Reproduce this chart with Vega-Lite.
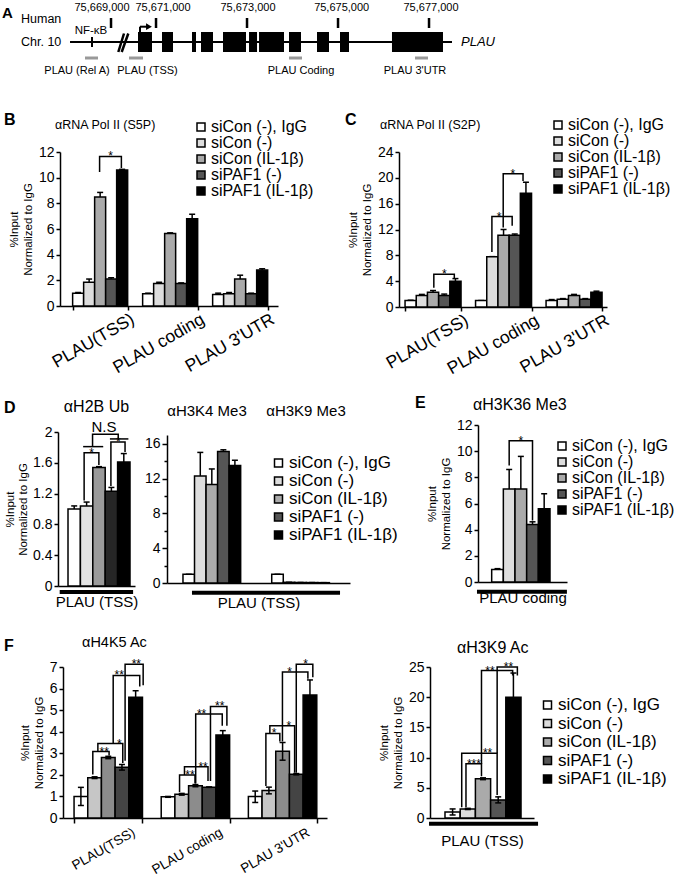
{
"$schema":"https://vega.github.io/schema/vega-lite/v6.json",
"background":"white",
"padding":0,
"bounds":"flush",
"spacing":0,
"config":{
 "font":"Liberation Sans",
 "view":{"stroke":null},
 "concat":{"spacing":0},
 "axis":{"domainColor":"black","domainWidth":1.5,"tickColor":"black","tickWidth":1.5,"tickSize":4,"labelColor":"black","labelFontSize":14,"labelPadding":2,"labelOverlap":false,"labelSeparation":-50,"titleColor":"black","titleFontSize":11.5,"titleFontWeight":"normal","grid":false},
 "legend":{"symbolType":"square","symbolSize":64,"symbolStrokeColor":"black","symbolStrokeWidth":1.5,"labelFontSize":16,"labelColor":"black","labelOffset":2,"padding":0,"orient":"none"},
 "title":{"fontSize":15,"fontWeight":"normal","color":"black","frame":"group"},
 "text":{"color":"black"}
},
"resolve":{"scale":{"color":"independent"},"legend":{"color":"independent"}},
"vconcat":[
{
 "width":680,"height":110,
 "layer":[
  {"data":{"values":[{"start":75669.11,"end":75677.505}]},
   "mark":{"type":"rule","color":"black","strokeWidth":2},
   "encoding":{"x":{"field":"start","type":"quantitative","scale":{"domain":[75667.571,75682.516],"nice":false,"zero":false},"axis":null},"x2":{"field":"end"},"y":{"datum":4.2,"type":"quantitative","scale":{"domain":[0,11],"reverse":true,"nice":false,"zero":false},"axis":null}}},
  {"data":{"values":[{"start":75670.604,"end":75670.912},{"start":75671.132,"end":75671.373},{"start":75671.791,"end":75671.879},{"start":75671.989,"end":75672.252},{"start":75672.472,"end":75672.978},{"start":75673.044,"end":75673.22},{"start":75673.264,"end":75673.813},{"start":75673.923,"end":75674.187},{"start":75674.538,"end":75674.802},{"start":75675.044,"end":75675.241},{"start":75676.186,"end":75677.307}]},
   "mark":{"type":"rect","color":"black"},
   "encoding":{"x":{"field":"start","type":"quantitative","axis":null},"x2":{"field":"end"},"y":{"datum":3.2,"type":"quantitative","axis":null},"y2":{"datum":5.2}}},
  {"data":{"values":[{"pos":75669.593,"name":"NF-κB"}]},
   "mark":{"type":"rule","color":"black","strokeWidth":2},
   "encoding":{"x":{"field":"pos","type":"quantitative","axis":null},"y":{"datum":3.7,"type":"quantitative","axis":null},"y2":{"datum":4.7}}},
  {"data":{"values":[{"pos":75669.571,"name":"NF-κB"}]},
   "mark":{"type":"text","fontSize":11.5,"baseline":"middle"},
   "encoding":{"x":{"field":"pos","type":"quantitative","axis":null},"y":{"datum":3.05,"type":"quantitative","axis":null},"text":{"field":"name"}}},
  {"data":{"values":[{"pos":75670.281}]},
   "mark":{"type":"point","shape":"M-0.5,1L0.07,-0.85M-0.16,1L0.5,-0.85","size":400,"filled":false,"stroke":"black","strokeWidth":2.5,"opacity":1},
   "encoding":{"x":{"field":"pos","type":"quantitative","axis":null},"y":{"datum":4.2,"type":"quantitative","axis":null}}},
  {"data":{"values":[{"tss":75670.648,"head":75670.845}]},
   "layer":[
    {"mark":{"type":"rule","color":"black","strokeWidth":2},"encoding":{"x":{"field":"tss","type":"quantitative","axis":null},"y":{"datum":3.2,"type":"quantitative","axis":null},"y2":{"datum":2.67}}},
    {"mark":{"type":"rule","color":"black","strokeWidth":2},"encoding":{"x":{"field":"tss","type":"quantitative","axis":null},"x2":{"field":"head"},"y":{"datum":2.67,"type":"quantitative","axis":null}}},
    {"mark":{"type":"point","shape":"triangle-right","size":45,"filled":true,"color":"black","opacity":1},"encoding":{"x":{"field":"head","type":"quantitative","axis":null},"y":{"datum":2.67,"type":"quantitative","axis":null}}}
   ]},
  {"data":{"values":[{"pos":75670.011,"label":"75,669,000","lpos":75669.813},{"pos":75671.0,"label":"75,671,000","lpos":75671.154},{"pos":75673.0,"label":"75,673,000","lpos":75673.022},{"pos":75675.0,"label":"75,675,000","lpos":75675.08},{"pos":75677.0,"label":"75,677,000","lpos":75677.044}]},
   "layer":[
    {"mark":{"type":"rule","color":"black","strokeWidth":2.5},"encoding":{"x":{"field":"pos","type":"quantitative","axis":null},"y":{"datum":1.8,"type":"quantitative","axis":null},"y2":{"datum":2.8}}},
    {"mark":{"type":"text","fontSize":11,"baseline":"middle"},"encoding":{"x":{"field":"lpos","type":"quantitative","axis":null},"y":{"datum":0.8,"type":"quantitative","axis":null},"text":{"field":"label"}}}
   ]},
  {"data":{"values":[{"start":75669.439,"end":75669.725,"name":"PLAU (Rel A)","lpos":75669.264},{"start":75670.406,"end":75670.714,"name":"PLAU (TSS)","lpos":75670.813},{"start":75673.923,"end":75674.209,"name":"PLAU Coding","lpos":75674.187},{"start":75676.692,"end":75676.978,"name":"PLAU 3'UTR","lpos":75676.692}]},
   "layer":[
    {"mark":{"type":"rule","color":"#999999","strokeWidth":3},"encoding":{"x":{"field":"start","type":"quantitative","axis":null},"x2":{"field":"end"},"y":{"datum":5.8,"type":"quantitative","axis":null}}},
    {"mark":{"type":"text","fontSize":11,"baseline":"middle"},"encoding":{"x":{"field":"lpos","type":"quantitative","axis":null},"y":{"datum":7.1,"type":"quantitative","axis":null},"text":{"field":"name"}}}
   ]},
  {"data":{"values":[{"t":"Human","pos":75668.033,"lvl":1.9},{"t":"Chr. 10","pos":75668.033,"lvl":4.2}]},
   "mark":{"type":"text","fontSize":12.5,"align":"left","baseline":"middle"},
   "encoding":{"x":{"field":"pos","type":"quantitative","axis":null},"y":{"field":"lvl","type":"quantitative","axis":null},"text":{"field":"t"}}},
  {"data":{"values":[{"t":"PLAU","pos":75677.703,"lvl":4.2}]},
   "mark":{"type":"text","fontSize":13,"fontStyle":"italic","align":"left","baseline":"middle"},
   "encoding":{"x":{"field":"pos","type":"quantitative","axis":null},"y":{"field":"lvl","type":"quantitative","axis":null},"text":{"field":"t"}}},
  {"data":{"values":[{"t":"A","pos":75667.615,"lvl":1.3}]},
   "mark":{"type":"text","fontSize":15,"fontWeight":"bold","align":"left","baseline":"middle"},
   "encoding":{"x":{"field":"pos","type":"quantitative","axis":null},"y":{"field":"lvl","type":"quantitative","axis":null},"text":{"field":"t"}}}
 ]
},
{"width":1,"height":42,"data":{"values":[]},"mark":"point"},
{
 "hconcat":[
  {"width":60,"height":1,"data":{"values":[]},"mark":"point","title":{"text":"B","fontWeight":"bold","fontSize":16,"anchor":"start","dx":4,"offset":24}},
  {
   "width":218,"height":154,
   "title":{"text":"αRNA Pol II (S5P)","anchor":"start","dx":-5,"offset":-12,"fontSize":12.5},
   "resolve":{"scale":{"xOffset":"independent"}},
   "layer":[
    {"data":{"values":[
      {"r":"PLAU(TSS)","c":"siCon (-), IgG","v":1.0,"hi":1.05},
      {"r":"PLAU(TSS)","c":"siCon (-)","v":1.85,"hi":2.1},
      {"r":"PLAU(TSS)","c":"siCon (IL-1β)","v":8.5,"hi":8.85},
      {"r":"PLAU(TSS)","c":"siPAF1 (-)","v":2.1,"hi":2.2},
      {"r":"PLAU(TSS)","c":"siPAF1 (IL-1β)","v":10.6,"hi":10.65},
      {"r":"PLAU coding","c":"siCon (-), IgG","v":0.95,"hi":1.0},
      {"r":"PLAU coding","c":"siCon (-)","v":1.75,"hi":1.85},
      {"r":"PLAU coding","c":"siCon (IL-1β)","v":5.65,"hi":5.7},
      {"r":"PLAU coding","c":"siPAF1 (-)","v":1.75,"hi":1.8},
      {"r":"PLAU coding","c":"siPAF1 (IL-1β)","v":6.8,"hi":7.15},
      {"r":"PLAU 3'UTR","c":"siCon (-), IgG","v":0.9,"hi":1.0},
      {"r":"PLAU 3'UTR","c":"siCon (-)","v":0.95,"hi":1.05},
      {"r":"PLAU 3'UTR","c":"siCon (IL-1β)","v":2.1,"hi":2.4},
      {"r":"PLAU 3'UTR","c":"siPAF1 (-)","v":0.95,"hi":1.0},
      {"r":"PLAU 3'UTR","c":"siPAF1 (IL-1β)","v":2.8,"hi":2.9}]},
     "encoding":{
      "x":{"field":"r","type":"nominal","scale":{"domain":["PLAU(TSS)","PLAU coding","PLAU 3'UTR"],"paddingInner":0.214,"paddingOuter":0.164,"align":0.55},"axis":{"title":null,"labelAngle":-30,"labelFontSize":17.5,"labelOffset":28,"labelPadding":0,"tickBand":"extent","tickSize":4,"labelOverlap":false}},
      "xOffset":{"field":"c","type":"nominal","scale":{"domain":["siCon (-), IgG","siCon (-)","siCon (IL-1β)","siPAF1 (-)","siPAF1 (IL-1β)"],"paddingInner":0,"paddingOuter":0}},
      "y":{"field":"v","type":"quantitative","scale":{"domain":[0,12],"nice":false},"axis":{"title":["%Input","Normalized to IgG"],"values":[0,2,4,6,8,10,12],"titlePadding":5,"labelOverlap":false,"labelSeparation":-50}}},
     "layer":[
      {"mark":{"type":"rule","color":"black","strokeWidth":1.5},"encoding":{"y2":{"field":"hi"}}},
      {"mark":{"type":"tick","color":"black","thickness":1.5,"size":6,"opacity":1},"encoding":{"y":{"field":"hi","type":"quantitative","axis":{"title":["%Input","Normalized to IgG"],"values":[0,2,4,6,8,10,12],"titlePadding":5,"labelOverlap":false,"labelSeparation":-50}}}},
      {"mark":{"type":"bar","stroke":"black","strokeWidth":1.5},"encoding":{"color":{"field":"c","type":"nominal","scale":{"domain":["siCon (-), IgG","siCon (-)","siCon (IL-1β)","siPAF1 (-)","siPAF1 (IL-1β)"],"range":["#ffffff","#dddddd","#aaaaaa","#555555","#000000"]},"legend":{"title":null,"orient":"none","legendX":133,"legendY":-33,"rowPadding":0}}}}
     ]},
    {"encoding":{
      "x":{"field":"r","type":"nominal","scale":{"domain":["PLAU(TSS)","PLAU coding","PLAU 3'UTR"]}},
      "xOffset":{"field":"p","type":"quantitative","scale":{"domain":[0.5,5.5],"nice":false,"zero":false}},
      "y":{"field":"v","type":"quantitative","scale":{"domain":[0,12],"nice":false},"axis":{"title":["%Input","Normalized to IgG"],"values":[0,2,4,6,8,10,12],"titlePadding":5,"labelOverlap":false,"labelSeparation":-50}}},
     "layer":[
      {"data":{"values":[{"r":"PLAU(TSS)","id":"b1","s":1,"p":2.95,"v":10.45},{"r":"PLAU(TSS)","id":"b1","s":2,"p":2.95,"v":11.65},{"r":"PLAU(TSS)","id":"b1","s":3,"p":4.93,"v":11.65},{"r":"PLAU(TSS)","id":"b1","s":4,"p":4.93,"v":10.75}]},
       "mark":{"type":"line","color":"black","strokeWidth":1.5},"encoding":{"detail":{"field":"id"},"order":{"field":"s"}}},
      {"data":{"values":[{"r":"PLAU(TSS)","p":3.94,"v":11.65,"t":"*"}]},
       "mark":{"type":"text","fontSize":12,"baseline":"alphabetic","dy":4},"encoding":{"text":{"field":"t"}}}
     ]}
   ]
  },
  {"width":121,"height":1,"data":{"values":[]},"mark":"point","title":{"text":"C","fontWeight":"bold","fontSize":16,"anchor":"start","dx":67,"offset":24}},
  {
   "width":208,"height":155,
   "title":{"text":"αRNA Pol II (S2P)","anchor":"start","dx":-19,"offset":-14,"fontSize":12.5},
   "resolve":{"scale":{"xOffset":"independent"}},
   "layer":[
    {"data":{"values":[
      {"r":"PLAU(TSS)","c":"siCon (-), IgG","v":1.0,"hi":1.05},
      {"r":"PLAU(TSS)","c":"siCon (-)","v":1.8,"hi":1.95},
      {"r":"PLAU(TSS)","c":"siCon (IL-1β)","v":2.3,"hi":2.55},
      {"r":"PLAU(TSS)","c":"siPAF1 (-)","v":1.8,"hi":2.0},
      {"r":"PLAU(TSS)","c":"siPAF1 (IL-1β)","v":4.0,"hi":4.4},
      {"r":"PLAU coding","c":"siCon (-), IgG","v":1.0,"hi":1.0},
      {"r":"PLAU coding","c":"siCon (-)","v":7.8,"hi":7.8},
      {"r":"PLAU coding","c":"siCon (IL-1β)","v":11.1,"hi":12.0},
      {"r":"PLAU coding","c":"siPAF1 (-)","v":11.1,"hi":11.3},
      {"r":"PLAU coding","c":"siPAF1 (IL-1β)","v":17.6,"hi":19.3},
      {"r":"PLAU 3'UTR","c":"siCon (-), IgG","v":1.0,"hi":1.15},
      {"r":"PLAU 3'UTR","c":"siCon (-)","v":1.2,"hi":1.3},
      {"r":"PLAU 3'UTR","c":"siCon (IL-1β)","v":1.8,"hi":1.95},
      {"r":"PLAU 3'UTR","c":"siPAF1 (-)","v":1.2,"hi":1.3},
      {"r":"PLAU 3'UTR","c":"siPAF1 (IL-1β)","v":2.3,"hi":2.45}]},
     "encoding":{
      "x":{"field":"r","type":"nominal","scale":{"domain":["PLAU(TSS)","PLAU coding","PLAU 3'UTR"],"paddingInner":0.206,"paddingOuter":0.078,"align":0.55},"axis":{"title":null,"labelAngle":-30,"labelFontSize":17.5,"labelOffset":29,"labelPadding":0,"tickBand":"extent","tickSize":4,"labelOverlap":false}},
      "xOffset":{"field":"c","type":"nominal","scale":{"domain":["siCon (-), IgG","siCon (-)","siCon (IL-1β)","siPAF1 (-)","siPAF1 (IL-1β)"],"paddingInner":0,"paddingOuter":0}},
      "y":{"field":"v","type":"quantitative","scale":{"domain":[0,24],"nice":false},"axis":{"title":["%Input","Normalized to IgG"],"values":[0,4,8,12,16,20,24],"titlePadding":5,"labelOverlap":false,"labelSeparation":-50}}},
     "layer":[
      {"mark":{"type":"rule","color":"black","strokeWidth":1.5},"encoding":{"y2":{"field":"hi"}}},
      {"mark":{"type":"tick","color":"black","thickness":1.5,"size":6,"opacity":1},"encoding":{"y":{"field":"hi","type":"quantitative","axis":{"title":["%Input","Normalized to IgG"],"values":[0,4,8,12,16,20,24],"titlePadding":5,"labelOverlap":false,"labelSeparation":-50}}}},
      {"mark":{"type":"bar","stroke":"black","strokeWidth":1.5},"encoding":{"color":{"field":"c","type":"nominal","scale":{"domain":["siCon (-), IgG","siCon (-)","siCon (IL-1β)","siPAF1 (-)","siPAF1 (IL-1β)"],"range":["#ffffff","#dddddd","#aaaaaa","#555555","#000000"]},"legend":{"title":null,"orient":"none","legendX":151,"legendY":-35,"rowPadding":0}}}}
     ]},
    {"encoding":{
      "x":{"field":"r","type":"nominal","scale":{"domain":["PLAU(TSS)","PLAU coding","PLAU 3'UTR"]}},
      "xOffset":{"field":"p","type":"quantitative","scale":{"domain":[0.5,5.5],"nice":false,"zero":false}},
      "y":{"field":"v","type":"quantitative","scale":{"domain":[0,24],"nice":false},"axis":{"title":["%Input","Normalized to IgG"],"values":[0,4,8,12,16,20,24],"titlePadding":5,"labelOverlap":false,"labelSeparation":-50}}},
     "layer":[
      {"data":{"values":[
        {"r":"PLAU(TSS)","id":"c1","s":1,"p":3.07,"v":3.0},{"r":"PLAU(TSS)","id":"c1","s":2,"p":3.07,"v":5.06},{"r":"PLAU(TSS)","id":"c1","s":3,"p":4.9,"v":5.06},{"r":"PLAU(TSS)","id":"c1","s":4,"p":4.9,"v":4.5},
        {"r":"PLAU coding","id":"c2","s":1,"p":1.96,"v":8.5},{"r":"PLAU coding","id":"c2","s":2,"p":1.96,"v":14.0},{"r":"PLAU coding","id":"c2","s":3,"p":3.77,"v":14.0},{"r":"PLAU coding","id":"c2","s":4,"p":3.77,"v":12.6},
        {"r":"PLAU coding","id":"c3","s":1,"p":2.97,"v":12.3},{"r":"PLAU coding","id":"c3","s":2,"p":2.97,"v":20.65},{"r":"PLAU coding","id":"c3","s":3,"p":4.74,"v":20.65},{"r":"PLAU coding","id":"c3","s":4,"p":4.74,"v":19.5}]},
       "mark":{"type":"line","color":"black","strokeWidth":1.5},"encoding":{"detail":{"field":"id"},"order":{"field":"s"}}},
      {"data":{"values":[{"r":"PLAU(TSS)","p":4.0,"v":5.06,"t":"*"},{"r":"PLAU coding","p":2.6,"v":14.0,"t":"*"},{"r":"PLAU coding","p":3.83,"v":20.65,"t":"*"}]},
       "mark":{"type":"text","fontSize":12,"baseline":"alphabetic","dy":4},"encoding":{"text":{"field":"t"}}}
     ]}
   ]
  }
 ],
 "spacing":0,"bounds":"flush",
 "resolve":{"scale":{"color":"independent"},"legend":{"color":"independent"}}
},
{"width":1,"height":273,"data":{"values":[]},"mark":"point"},
{
 "hconcat":[
  {"width":58,"height":1,"data":{"values":[]},"mark":"point","title":{"text":"D","fontWeight":"bold","fontSize":16,"anchor":"start","dx":4,"offset":9}},
  {"width":292,"height":1,"data":{"values":[]},"mark":"point"},
  {"width":128,"height":1,"data":{"values":[]},"mark":"point","title":{"text":"E","fontWeight":"bold","fontSize":16,"anchor":"start","dx":65,"offset":14}},
  {
   "width":89,"height":157,
   "title":{"text":"αH3K36 Me3","anchor":"start","dx":-5,"offset":5,"fontSize":16},
   "resolve":{"scale":{"xOffset":"independent"}},
   "layer":[
    {"data":{"values":[
      {"r":"PLAU coding","c":"siCon (-), IgG","v":0.95,"hi":1.02},
      {"r":"PLAU coding","c":"siCon (-)","v":7.1,"hi":8.6},
      {"r":"PLAU coding","c":"siCon (IL-1β)","v":7.1,"hi":9.6},
      {"r":"PLAU coding","c":"siPAF1 (-)","v":4.4,"hi":4.6},
      {"r":"PLAU coding","c":"siPAF1 (IL-1β)","v":5.6,"hi":6.75}]},
     "encoding":{
      "x":{"field":"r","type":"nominal","scale":{"domain":["PLAU coding"],"paddingInner":0,"paddingOuter":0.263,"align":0.446},"axis":{"title":"PLAU coding","labels":false,"ticks":false,"titlePadding":8,"titleFontSize":15}},
      "xOffset":{"field":"c","type":"nominal","scale":{"domain":["siCon (-), IgG","siCon (-)","siCon (IL-1β)","siPAF1 (-)","siPAF1 (IL-1β)"],"paddingInner":0,"paddingOuter":0}},
      "y":{"field":"v","type":"quantitative","scale":{"domain":[0,12],"nice":false},"axis":{"title":["%Input","Normalized to IgG"],"values":[0,2,4,6,8,10,12],"titlePadding":5,"labelOverlap":false,"labelSeparation":-50}}},
     "layer":[
      {"mark":{"type":"rule","color":"black","strokeWidth":1.5},"encoding":{"y2":{"field":"hi"}}},
      {"mark":{"type":"tick","color":"black","thickness":1.5,"size":6,"opacity":1},"encoding":{"y":{"field":"hi","type":"quantitative","axis":{"title":["%Input","Normalized to IgG"],"values":[0,2,4,6,8,10,12],"titlePadding":5,"labelOverlap":false,"labelSeparation":-50}}}},
      {"mark":{"type":"bar","stroke":"black","strokeWidth":1.5},"encoding":{"color":{"field":"c","type":"nominal","scale":{"domain":["siCon (-), IgG","siCon (-)","siCon (IL-1β)","siPAF1 (-)","siPAF1 (IL-1β)"],"range":["#ffffff","#dddddd","#aaaaaa","#555555","#000000"]},"legend":{"title":null,"orient":"none","legendX":76,"legendY":13,"rowPadding":0}}}}
     ]},
    {"encoding":{
      "x":{"field":"r","type":"nominal","scale":{"domain":["PLAU coding"]}},
      "xOffset":{"field":"p","type":"quantitative","scale":{"domain":[0.5,5.5],"nice":false,"zero":false}},
      "y":{"field":"v","type":"quantitative","scale":{"domain":[0,12],"nice":false},"axis":{"title":["%Input","Normalized to IgG"],"values":[0,2,4,6,8,10,12],"titlePadding":5,"labelOverlap":false,"labelSeparation":-50}}},
     "layer":[
      {"data":{"values":[{"r":"PLAU coding","id":"e1","s":1,"p":2.0,"v":8.9},{"r":"PLAU coding","id":"e1","s":2,"p":2.0,"v":10.8},{"r":"PLAU coding","id":"e1","s":3,"p":4.0,"v":10.8},{"r":"PLAU coding","id":"e1","s":4,"p":4.0,"v":4.7}]},
       "mark":{"type":"line","color":"black","strokeWidth":1.5},"encoding":{"detail":{"field":"id"},"order":{"field":"s"}}},
      {"data":{"values":[{"r":"PLAU coding","id":"u","s":1,"p":-0.76,"v":-0.74},{"r":"PLAU coding","id":"u","s":2,"p":6.95,"v":-0.74}]},
       "mark":{"type":"line","color":"black","strokeWidth":4},"encoding":{"detail":{"field":"id"},"order":{"field":"s"}}},
      {"data":{"values":[{"r":"PLAU coding","p":3.0,"v":10.8,"t":"*"}]},
       "mark":{"type":"text","fontSize":12,"baseline":"alphabetic","dy":4},"encoding":{"text":{"field":"t"}}}
     ]}
   ]
  }
 ],
 "spacing":0,"bounds":"flush",
 "resolve":{"scale":{"color":"independent"},"legend":{"color":"independent"}}
},
{"width":1,"height":7,"data":{"values":[]},"mark":"point"},
{
 "hconcat":[
  {"width":58,"height":1,"data":{"values":[]},"mark":"point"},
  {
   "width":77,"height":154,
   "title":{"text":"αH2B Ub","anchor":"middle","offset":5,"fontSize":16},
   "resolve":{"scale":{"xOffset":"independent"}},
   "layer":[
    {"data":{"values":[
      {"r":"PLAU (TSS)","c":"siCon (-), IgG","v":1.0,"hi":1.04},
      {"r":"PLAU (TSS)","c":"siCon (-)","v":1.04,"hi":1.09},
      {"r":"PLAU (TSS)","c":"siCon (IL-1β)","v":1.54,"hi":1.55},
      {"r":"PLAU (TSS)","c":"siPAF1 (-)","v":1.23,"hi":1.28},
      {"r":"PLAU (TSS)","c":"siPAF1 (IL-1β)","v":1.61,"hi":1.72}]},
     "encoding":{
      "x":{"field":"r","type":"nominal","scale":{"domain":["PLAU (TSS)"],"paddingInner":0,"paddingOuter":0.121,"align":0.667},"axis":{"title":"PLAU (TSS)","labels":false,"ticks":false,"titlePadding":8,"titleFontSize":15}},
      "xOffset":{"field":"c","type":"nominal","scale":{"domain":["siCon (-), IgG","siCon (-)","siCon (IL-1β)","siPAF1 (-)","siPAF1 (IL-1β)"],"paddingInner":0,"paddingOuter":0}},
      "y":{"field":"v","type":"quantitative","scale":{"domain":[0,2],"nice":false},"axis":{"title":["%Input","Normalized to IgG"],"values":[0,0.4,0.8,1.2,1.6,2],"format":"~g","titlePadding":4,"labelOverlap":false,"labelSeparation":-50}}},
     "layer":[
      {"mark":{"type":"rule","color":"black","strokeWidth":1.5},"encoding":{"y2":{"field":"hi"}}},
      {"mark":{"type":"tick","color":"black","thickness":1.5,"size":6,"opacity":1},"encoding":{"y":{"field":"hi","type":"quantitative","axis":{"title":["%Input","Normalized to IgG"],"values":[0,0.4,0.8,1.2,1.6,2],"format":"~g","titlePadding":4,"labelOverlap":false,"labelSeparation":-50}}}},
      {"mark":{"type":"bar","stroke":"black","strokeWidth":1.5},"encoding":{"color":{"field":"c","type":"nominal","scale":{"domain":["siCon (-), IgG","siCon (-)","siCon (IL-1β)","siPAF1 (-)","siPAF1 (IL-1β)"],"range":["#ffffff","#e2e2e2","#9a9a9a","#262626","#000000"]},"legend":null}}}
     ]},
    {"encoding":{
      "x":{"field":"r","type":"nominal","scale":{"domain":["PLAU (TSS)"]}},
      "xOffset":{"field":"p","type":"quantitative","scale":{"domain":[0.5,5.5],"nice":false,"zero":false}},
      "y":{"field":"v","type":"quantitative","scale":{"domain":[0,2],"nice":false},"axis":{"title":["%Input","Normalized to IgG"],"values":[0,0.4,0.8,1.2,1.6,2],"format":"~g","titlePadding":4,"labelOverlap":false,"labelSeparation":-50}}},
     "layer":[
      {"data":{"values":[
        {"r":"PLAU (TSS)","id":"a","s":1,"p":1.8,"v":1.11},{"r":"PLAU (TSS)","id":"a","s":2,"p":1.8,"v":1.73},{"r":"PLAU (TSS)","id":"a","s":3,"p":2.99,"v":1.73},{"r":"PLAU (TSS)","id":"a","s":4,"p":2.99,"v":1.57},
        {"r":"PLAU (TSS)","id":"b","s":1,"p":3.96,"v":1.3},{"r":"PLAU (TSS)","id":"b","s":2,"p":3.96,"v":1.87},{"r":"PLAU (TSS)","id":"b","s":3,"p":5.1,"v":1.87},{"r":"PLAU (TSS)","id":"b","s":4,"p":5.1,"v":1.74},
        {"r":"PLAU (TSS)","id":"c","s":1,"p":1.72,"v":1.81},{"r":"PLAU (TSS)","id":"c","s":2,"p":3.34,"v":1.81},
        {"r":"PLAU (TSS)","id":"d","s":1,"p":3.88,"v":1.91},{"r":"PLAU (TSS)","id":"d","s":2,"p":5.37,"v":1.91},
        {"r":"PLAU (TSS)","id":"e","s":1,"p":2.48,"v":1.81},{"r":"PLAU (TSS)","id":"e","s":2,"p":2.48,"v":1.97},{"r":"PLAU (TSS)","id":"e","s":3,"p":4.55,"v":1.97},{"r":"PLAU (TSS)","id":"e","s":4,"p":4.55,"v":1.91}]},
       "mark":{"type":"line","color":"black","strokeWidth":1.5},"encoding":{"detail":{"field":"id"},"order":{"field":"s"}}},
      {"data":{"values":[{"r":"PLAU (TSS)","id":"u","s":1,"p":-0.17,"v":-0.078},{"r":"PLAU (TSS)","id":"u","s":2,"p":5.75,"v":-0.078}]},
       "mark":{"type":"line","color":"black","strokeWidth":4},"encoding":{"detail":{"field":"id"},"order":{"field":"s"}}},
      {"data":{"values":[{"r":"PLAU (TSS)","p":2.4,"v":1.73,"t":"*"},{"r":"PLAU (TSS)","p":4.55,"v":1.87,"t":"*"}]},
       "mark":{"type":"text","fontSize":12,"baseline":"alphabetic","dy":4},"encoding":{"text":{"field":"t"}}},
      {"data":{"values":[{"r":"PLAU (TSS)","p":3.4,"v":1.97,"t":"N.S"}]},
       "mark":{"type":"text","fontSize":15,"baseline":"alphabetic","dy":-2},"encoding":{"text":{"field":"t"}}}
     ]}
   ]
  }
 ],
 "spacing":0,"bounds":"flush",
 "resolve":{"scale":{"color":"independent"},"legend":{"color":"independent"}}
},
{"width":1,"height":3,"data":{"values":[]},"mark":"point"},
{
 "hconcat":[
  {"width":167,"height":1,"data":{"values":[]},"mark":"point"},
  {
   "width":183,"height":148,
   "resolve":{"scale":{"xOffset":"independent"}},
   "layer":[
    {"data":{"values":[
      {"r":"αH3K4 Me3","c":"siCon (-), IgG","v":1.0,"hi":1.0},
      {"r":"αH3K4 Me3","c":"siCon (-)","v":12.3,"hi":15.0},
      {"r":"αH3K4 Me3","c":"siCon (IL-1β)","v":11.3,"hi":13.1},
      {"r":"αH3K4 Me3","c":"siPAF1 (-)","v":15.1,"hi":15.3},
      {"r":"αH3K4 Me3","c":"siPAF1 (IL-1β)","v":13.5,"hi":14.1},
      {"r":"αH3K9 Me3","c":"siCon (-), IgG","v":1.0,"hi":1.0},
      {"r":"αH3K9 Me3","c":"siCon (-)","v":0.08,"hi":0.08},
      {"r":"αH3K9 Me3","c":"siCon (IL-1β)","v":0.06,"hi":0.06},
      {"r":"αH3K9 Me3","c":"siPAF1 (-)","v":0.05,"hi":0.05},
      {"r":"αH3K9 Me3","c":"siPAF1 (IL-1β)","v":0.04,"hi":0.04}]},
     "encoding":{
      "x":{"field":"r","type":"nominal","scale":{"domain":["αH3K4 Me3","αH3K9 Me3"],"paddingInner":0.35,"paddingOuter":0.206,"align":0.437},"axis":{"title":"PLAU (TSS)","labels":false,"ticks":false,"titlePadding":12,"titleFontSize":15}},
      "xOffset":{"field":"c","type":"nominal","scale":{"domain":["siCon (-), IgG","siCon (-)","siCon (IL-1β)","siPAF1 (-)","siPAF1 (IL-1β)"],"paddingInner":0,"paddingOuter":0}},
      "y":{"field":"v","type":"quantitative","scale":{"domain":[0,17],"nice":false},"axis":{"title":null,"values":[0,2,4,6,8,10,12,14,16],"labelOverlap":false,"labelSeparation":-50,"labelExpr":"datum.value % 4 === 0 ? datum.label : ''","tickSize":{"condition":{"test":"datum.value % 4 === 0","value":5},"value":3}}}},
     "layer":[
      {"mark":{"type":"rule","color":"black","strokeWidth":1.5},"encoding":{"y2":{"field":"hi"}}},
      {"mark":{"type":"tick","color":"black","thickness":1.5,"size":6,"opacity":1},"encoding":{"y":{"field":"hi","type":"quantitative","axis":{"title":null,"values":[0,2,4,6,8,10,12,14,16],"labelOverlap":false,"labelSeparation":-50,"labelExpr":"datum.value % 4 === 0 ? datum.label : ''","tickSize":{"condition":{"test":"datum.value % 4 === 0","value":5},"value":3}}}}},
      {"mark":{"type":"bar","stroke":"black","strokeWidth":1.5},"encoding":{"color":{"field":"c","type":"nominal","scale":{"domain":["siCon (-), IgG","siCon (-)","siCon (IL-1β)","siPAF1 (-)","siPAF1 (IL-1β)"],"range":["#ffffff","#dddddd","#aaaaaa","#555555","#000000"]},"legend":{"title":null,"orient":"none","legendX":103,"legendY":19.5,"rowPadding":0,"labelFontSize":17}}}}
     ]},
    {"encoding":{
      "x":{"field":"r","type":"nominal","scale":{"domain":["αH3K4 Me3","αH3K9 Me3"]}},
      "xOffset":{"field":"p","type":"quantitative","scale":{"domain":[0.5,5.5],"nice":false,"zero":false}},
      "y":{"field":"v","type":"quantitative","scale":{"domain":[0,17],"nice":false},"axis":{"title":null,"values":[0,2,4,6,8,10,12,14,16],"labelOverlap":false,"labelSeparation":-50,"labelExpr":"datum.value % 4 === 0 ? datum.label : ''","tickSize":{"condition":{"test":"datum.value % 4 === 0","value":5},"value":3}}}},
     "layer":[
      {"data":{"values":[{"r":"αH3K4 Me3","id":"u","s":1,"p":1.28,"v":-1.12},{"r":"αH3K9 Me3","id":"u","s":2,"p":6.42,"v":-1.12}]},
       "mark":{"type":"line","color":"black","strokeWidth":4},"encoding":{"detail":{"field":"id"},"order":{"field":"s"}}},
      {"data":{"values":[{"r":"αH3K4 Me3","p":2.58,"v":19.7,"t":"αH3K4 Me3"},{"r":"αH3K9 Me3","p":3.47,"v":19.7,"t":"αH3K9 Me3"}]},
       "mark":{"type":"text","fontSize":15,"baseline":"middle"},"encoding":{"text":{"field":"t"}}}
     ]}
   ]
  }
 ],
 "spacing":0,"bounds":"flush",
 "resolve":{"scale":{"color":"independent"},"legend":{"color":"independent"}}
},
{"width":1,"height":232,"data":{"values":[]},"mark":"point"},
{
 "hconcat":[
  {"width":63,"height":1,"data":{"values":[]},"mark":"point","title":{"text":"F","fontWeight":"bold","fontSize":16,"anchor":"start","dx":4,"offset":13}},
  {
   "width":264,"height":151,
   "title":{"text":"αH4K5 Ac","anchor":"start","dx":19,"offset":8,"fontSize":14.5},
   "resolve":{"scale":{"xOffset":"independent"}},
   "layer":[
    {"data":{"values":[
      {"r":"PLAU(TSS)","c":"siCon (-), IgG","v":1.0,"lo":0.58,"hi":1.42},
      {"r":"PLAU(TSS)","c":"siCon (-)","v":1.87,"lo":1.83,"hi":1.91},
      {"r":"PLAU(TSS)","c":"siCon (IL-1β)","v":2.8,"lo":2.75,"hi":2.86},
      {"r":"PLAU(TSS)","c":"siPAF1 (-)","v":2.35,"lo":2.22,"hi":2.48},
      {"r":"PLAU(TSS)","c":"siPAF1 (IL-1β)","v":5.6,"lo":5.3,"hi":5.9},
      {"r":"PLAU coding","c":"siCon (-), IgG","v":0.98,"lo":0.96,"hi":1.0},
      {"r":"PLAU coding","c":"siCon (-)","v":1.1,"lo":1.06,"hi":1.14},
      {"r":"PLAU coding","c":"siCon (IL-1β)","v":1.5,"lo":1.45,"hi":1.55},
      {"r":"PLAU coding","c":"siPAF1 (-)","v":1.43,"lo":1.42,"hi":1.44},
      {"r":"PLAU coding","c":"siPAF1 (IL-1β)","v":3.85,"lo":3.65,"hi":4.05},
      {"r":"PLAU 3'UTR","c":"siCon (-), IgG","v":1.0,"lo":0.72,"hi":1.25},
      {"r":"PLAU 3'UTR","c":"siCon (-)","v":1.28,"lo":1.12,"hi":1.43},
      {"r":"PLAU 3'UTR","c":"siCon (IL-1β)","v":3.1,"lo":2.68,"hi":3.5},
      {"r":"PLAU 3'UTR","c":"siPAF1 (-)","v":2.03,"lo":2.0,"hi":2.06},
      {"r":"PLAU 3'UTR","c":"siPAF1 (IL-1β)","v":5.7,"lo":5.05,"hi":6.4}]},
     "encoding":{
      "x":{"field":"r","type":"nominal","scale":{"domain":["PLAU(TSS)","PLAU coding","PLAU 3'UTR"],"paddingInner":0.215,"paddingOuter":0.122,"align":0.52},"axis":{"title":null,"labelAngle":-30,"labelFontSize":13.5,"labelOffset":22,"labelPadding":2,"tickBand":"extent","tickSize":5,"labelOverlap":false}},
      "xOffset":{"field":"c","type":"nominal","scale":{"domain":["siCon (-), IgG","siCon (-)","siCon (IL-1β)","siPAF1 (-)","siPAF1 (IL-1β)"],"paddingInner":0,"paddingOuter":0}},
      "y":{"field":"v","type":"quantitative","scale":{"domain":[0,7],"nice":false},"axis":{"title":["%Input","Normalized to IgG"],"values":[0,1,2,3,4,5,6,7],"titlePadding":5,"labelOverlap":false,"labelSeparation":-50}}},
     "layer":[
      {"mark":{"type":"bar","stroke":"black","strokeWidth":1.5},"encoding":{"color":{"field":"c","type":"nominal","scale":{"domain":["siCon (-), IgG","siCon (-)","siCon (IL-1β)","siPAF1 (-)","siPAF1 (IL-1β)"],"range":["#ffffff","#c6c6c6","#8c8c8c","#444444","#000000"]},"legend":null}}},
      {"mark":{"type":"rule","color":"black","strokeWidth":1.5},"encoding":{"y":{"field":"lo","type":"quantitative","axis":{"title":["%Input","Normalized to IgG"],"values":[0,1,2,3,4,5,6,7],"titlePadding":5,"labelOverlap":false,"labelSeparation":-50}},"y2":{"field":"hi"}}},
      {"mark":{"type":"tick","color":"black","thickness":1.5,"size":6,"opacity":1},"encoding":{"y":{"field":"hi","type":"quantitative","axis":{"title":["%Input","Normalized to IgG"],"values":[0,1,2,3,4,5,6,7],"titlePadding":5,"labelOverlap":false,"labelSeparation":-50}}}},
      {"mark":{"type":"tick","color":"black","thickness":1.5,"size":6,"opacity":1},"encoding":{"y":{"field":"lo","type":"quantitative","axis":{"title":["%Input","Normalized to IgG"],"values":[0,1,2,3,4,5,6,7],"titlePadding":5,"labelOverlap":false,"labelSeparation":-50}}}}
     ]},
    {"encoding":{
      "x":{"field":"r","type":"nominal","scale":{"domain":["PLAU(TSS)","PLAU coding","PLAU 3'UTR"]}},
      "xOffset":{"field":"p","type":"quantitative","scale":{"domain":[0.5,5.5],"nice":false,"zero":false}},
      "y":{"field":"v","type":"quantitative","scale":{"domain":[0,7],"nice":false},"axis":{"title":["%Input","Normalized to IgG"],"values":[0,1,2,3,4,5,6,7],"titlePadding":5,"labelOverlap":false,"labelSeparation":-50}}},
     "layer":[
      {"data":{"values":[
        {"r":"PLAU(TSS)","id":"t1","s":1,"p":1.87,"v":2.02},{"r":"PLAU(TSS)","id":"t1","s":2,"p":1.87,"v":3.08},{"r":"PLAU(TSS)","id":"t1","s":3,"p":3.06,"v":3.08},{"r":"PLAU(TSS)","id":"t1","s":4,"p":3.06,"v":2.9},
        {"r":"PLAU(TSS)","id":"t2","s":1,"p":2.24,"v":3.08},{"r":"PLAU(TSS)","id":"t2","s":2,"p":2.24,"v":3.45},{"r":"PLAU(TSS)","id":"t2","s":3,"p":4.06,"v":3.45},{"r":"PLAU(TSS)","id":"t2","s":4,"p":4.06,"v":2.55},
        {"r":"PLAU(TSS)","id":"t3","s":1,"p":3.36,"v":3.45},{"r":"PLAU(TSS)","id":"t3","s":2,"p":3.36,"v":6.61},{"r":"PLAU(TSS)","id":"t3","s":3,"p":5.3,"v":6.61},{"r":"PLAU(TSS)","id":"t3","s":4,"p":5.3,"v":6.1},
        {"r":"PLAU(TSS)","id":"t4","s":1,"p":4.23,"v":2.65},{"r":"PLAU(TSS)","id":"t4","s":2,"p":4.23,"v":7.13},{"r":"PLAU(TSS)","id":"t4","s":3,"p":5.55,"v":7.13},{"r":"PLAU(TSS)","id":"t4","s":4,"p":5.55,"v":6.15},
        {"r":"PLAU coding","id":"k1","s":1,"p":1.84,"v":1.21},{"r":"PLAU coding","id":"k1","s":2,"p":1.84,"v":1.99},{"r":"PLAU coding","id":"k1","s":3,"p":2.97,"v":1.99},{"r":"PLAU coding","id":"k1","s":4,"p":2.97,"v":1.6},
        {"r":"PLAU coding","id":"k2","s":1,"p":2.2,"v":1.99},{"r":"PLAU coding","id":"k2","s":2,"p":2.2,"v":2.38},{"r":"PLAU coding","id":"k2","s":3,"p":3.92,"v":2.38},{"r":"PLAU coding","id":"k2","s":4,"p":3.92,"v":1.71},
        {"r":"PLAU coding","id":"k3","s":1,"p":3.02,"v":1.6},{"r":"PLAU coding","id":"k3","s":2,"p":3.02,"v":4.82},{"r":"PLAU coding","id":"k3","s":3,"p":4.96,"v":4.82},{"r":"PLAU coding","id":"k3","s":4,"p":4.96,"v":4.28},
        {"r":"PLAU coding","id":"k4","s":1,"p":4.1,"v":1.71},{"r":"PLAU coding","id":"k4","s":2,"p":4.1,"v":5.17},{"r":"PLAU coding","id":"k4","s":3,"p":5.3,"v":5.17},{"r":"PLAU coding","id":"k4","s":4,"p":5.3,"v":4.28},
        {"r":"PLAU 3'UTR","id":"u1","s":1,"p":1.78,"v":1.48},{"r":"PLAU 3'UTR","id":"u1","s":2,"p":1.78,"v":3.92},{"r":"PLAU 3'UTR","id":"u1","s":3,"p":2.8,"v":3.92},{"r":"PLAU 3'UTR","id":"u1","s":4,"p":2.8,"v":3.55},
        {"r":"PLAU 3'UTR","id":"u2","s":1,"p":2.07,"v":3.92},{"r":"PLAU 3'UTR","id":"u2","s":2,"p":2.07,"v":4.28},{"r":"PLAU 3'UTR","id":"u2","s":3,"p":3.88,"v":4.28},{"r":"PLAU 3'UTR","id":"u2","s":4,"p":3.88,"v":2.1},
        {"r":"PLAU 3'UTR","id":"u3","s":1,"p":2.99,"v":3.55},{"r":"PLAU 3'UTR","id":"u3","s":2,"p":2.99,"v":6.77},{"r":"PLAU 3'UTR","id":"u3","s":3,"p":4.85,"v":6.77},{"r":"PLAU 3'UTR","id":"u3","s":4,"p":4.85,"v":6.46},
        {"r":"PLAU 3'UTR","id":"u4","s":1,"p":4.0,"v":2.1},{"r":"PLAU 3'UTR","id":"u4","s":2,"p":4.0,"v":7.13},{"r":"PLAU 3'UTR","id":"u4","s":3,"p":5.21,"v":7.13},{"r":"PLAU 3'UTR","id":"u4","s":4,"p":5.21,"v":6.53}]},
       "mark":{"type":"line","color":"black","strokeWidth":1.5},"encoding":{"detail":{"field":"id"},"order":{"field":"s"}}},
      {"data":{"values":[
        {"r":"PLAU(TSS)","p":2.7,"v":3.08,"t":"**"},{"r":"PLAU(TSS)","p":3.8,"v":3.45,"t":"*"},{"r":"PLAU(TSS)","p":3.8,"v":6.61,"t":"**"},{"r":"PLAU(TSS)","p":5.05,"v":7.13,"t":"**"},
        {"r":"PLAU coding","p":2.6,"v":1.99,"t":"**"},{"r":"PLAU coding","p":3.56,"v":2.38,"t":"**"},{"r":"PLAU coding","p":3.45,"v":4.82,"t":"**"},{"r":"PLAU coding","p":4.77,"v":5.17,"t":"**"},
        {"r":"PLAU 3'UTR","p":2.38,"v":3.92,"t":"*"},{"r":"PLAU 3'UTR","p":3.45,"v":4.28,"t":"*"},{"r":"PLAU 3'UTR","p":3.52,"v":6.77,"t":"*"},{"r":"PLAU 3'UTR","p":4.68,"v":7.13,"t":"*"}]},
       "mark":{"type":"text","fontSize":12,"baseline":"alphabetic","dy":4},"encoding":{"text":{"field":"t"}}}
     ]}
   ]
  },
  {"width":103,"height":1,"data":{"values":[]},"mark":"point"},
  {
   "width":104,"height":151,
   "title":{"text":"αH3K9 Ac","anchor":"start","dx":27,"offset":4,"fontSize":16},
   "resolve":{"scale":{"xOffset":"independent"}},
   "layer":[
    {"data":{"values":[
      {"r":"PLAU (TSS)","c":"siCon (-), IgG","v":1.0,"lo":0.5,"hi":1.5},
      {"r":"PLAU (TSS)","c":"siCon (-)","v":1.5,"lo":1.4,"hi":1.6},
      {"r":"PLAU (TSS)","c":"siCon (IL-1β)","v":6.5,"lo":6.35,"hi":6.65},
      {"r":"PLAU (TSS)","c":"siPAF1 (-)","v":3.0,"lo":2.5,"hi":3.5},
      {"r":"PLAU (TSS)","c":"siPAF1 (IL-1β)","v":20.0,"lo":16.0,"hi":24.0}]},
     "encoding":{
      "x":{"field":"r","type":"nominal","scale":{"domain":["PLAU (TSS)"],"paddingInner":0,"paddingOuter":0.184,"align":0.536},"axis":{"title":"PLAU (TSS)","labels":false,"ticks":false,"titlePadding":15,"titleFontSize":15}},
      "xOffset":{"field":"c","type":"nominal","scale":{"domain":["siCon (-), IgG","siCon (-)","siCon (IL-1β)","siPAF1 (-)","siPAF1 (IL-1β)"],"paddingInner":0,"paddingOuter":0}},
      "y":{"field":"v","type":"quantitative","scale":{"domain":[0,25],"nice":false},"axis":{"title":["%Input","Normalized to IgG"],"values":[0,5,10,15,20,25],"titlePadding":5,"labelOverlap":false,"labelSeparation":-50}}},
     "layer":[
      {"mark":{"type":"bar","stroke":"black","strokeWidth":1.5},"encoding":{"color":{"field":"c","type":"nominal","scale":{"domain":["siCon (-), IgG","siCon (-)","siCon (IL-1β)","siPAF1 (-)","siPAF1 (IL-1β)"],"range":["#ffffff","#dddddd","#aaaaaa","#555555","#000000"]},"legend":{"title":null,"orient":"none","legendX":109,"legendY":29.5,"rowPadding":0.5,"labelFontSize":17}}}},
      {"mark":{"type":"rule","color":"black","strokeWidth":1.5},"encoding":{"y":{"field":"lo","type":"quantitative","axis":{"title":["%Input","Normalized to IgG"],"values":[0,5,10,15,20,25],"titlePadding":5,"labelOverlap":false,"labelSeparation":-50}},"y2":{"field":"hi"}}},
      {"mark":{"type":"tick","color":"black","thickness":1.5,"size":6,"opacity":1},"encoding":{"y":{"field":"hi","type":"quantitative","axis":{"title":["%Input","Normalized to IgG"],"values":[0,5,10,15,20,25],"titlePadding":5,"labelOverlap":false,"labelSeparation":-50}}}},
      {"mark":{"type":"tick","color":"black","thickness":1.5,"size":6,"opacity":1},"encoding":{"y":{"field":"lo","type":"quantitative","axis":{"title":["%Input","Normalized to IgG"],"values":[0,5,10,15,20,25],"titlePadding":5,"labelOverlap":false,"labelSeparation":-50}}}}
     ]},
    {"encoding":{
      "x":{"field":"r","type":"nominal","scale":{"domain":["PLAU (TSS)"]}},
      "xOffset":{"field":"p","type":"quantitative","scale":{"domain":[0.5,5.5],"nice":false,"zero":false}},
      "y":{"field":"v","type":"quantitative","scale":{"domain":[0,25],"nice":false},"axis":{"title":["%Input","Normalized to IgG"],"values":[0,5,10,15,20,25],"titlePadding":5,"labelOverlap":false,"labelSeparation":-50}}},
     "layer":[
      {"data":{"values":[
        {"r":"PLAU (TSS)","id":"f1","s":1,"p":1.88,"v":1.8},{"r":"PLAU (TSS)","id":"f1","s":2,"p":1.88,"v":9.0},{"r":"PLAU (TSS)","id":"f1","s":3,"p":2.9,"v":9.0},{"r":"PLAU (TSS)","id":"f1","s":4,"p":2.9,"v":6.9},
        {"r":"PLAU (TSS)","id":"f2","s":1,"p":1.6,"v":1.8},{"r":"PLAU (TSS)","id":"f2","s":2,"p":1.6,"v":10.7},{"r":"PLAU (TSS)","id":"f2","s":3,"p":3.93,"v":10.7},{"r":"PLAU (TSS)","id":"f2","s":4,"p":3.93,"v":3.8},
        {"r":"PLAU (TSS)","id":"f3","s":1,"p":2.9,"v":9.0},{"r":"PLAU (TSS)","id":"f3","s":2,"p":2.9,"v":24.4},{"r":"PLAU (TSS)","id":"f3","s":3,"p":4.95,"v":24.4},{"r":"PLAU (TSS)","id":"f3","s":4,"p":4.95,"v":23.6},
        {"r":"PLAU (TSS)","id":"f4","s":1,"p":3.93,"v":10.7},{"r":"PLAU (TSS)","id":"f4","s":2,"p":3.93,"v":25.0},{"r":"PLAU (TSS)","id":"f4","s":3,"p":5.26,"v":25.0},{"r":"PLAU (TSS)","id":"f4","s":4,"p":5.26,"v":23.6}]},
       "mark":{"type":"line","color":"black","strokeWidth":1.5},"encoding":{"detail":{"field":"id"},"order":{"field":"s"}}},
      {"data":{"values":[{"r":"PLAU (TSS)","id":"u","s":1,"p":-0.55,"v":-0.94},{"r":"PLAU (TSS)","id":"u","s":2,"p":6.62,"v":-0.94}]},
       "mark":{"type":"line","color":"black","strokeWidth":4},"encoding":{"detail":{"field":"id"},"order":{"field":"s"}}},
      {"data":{"values":[{"r":"PLAU (TSS)","p":2.4,"v":9.0,"t":"***"},{"r":"PLAU (TSS)","p":3.3,"v":10.7,"t":"**"},{"r":"PLAU (TSS)","p":3.46,"v":24.4,"t":"**"},{"r":"PLAU (TSS)","p":4.67,"v":25.0,"t":"**"}]},
       "mark":{"type":"text","fontSize":12,"baseline":"alphabetic","dy":4},"encoding":{"text":{"field":"t"}}}
     ]}
   ]
  }
 ],
 "spacing":0,"bounds":"flush",
 "resolve":{"scale":{"color":"independent"},"legend":{"color":"independent"}}
}
]
}
